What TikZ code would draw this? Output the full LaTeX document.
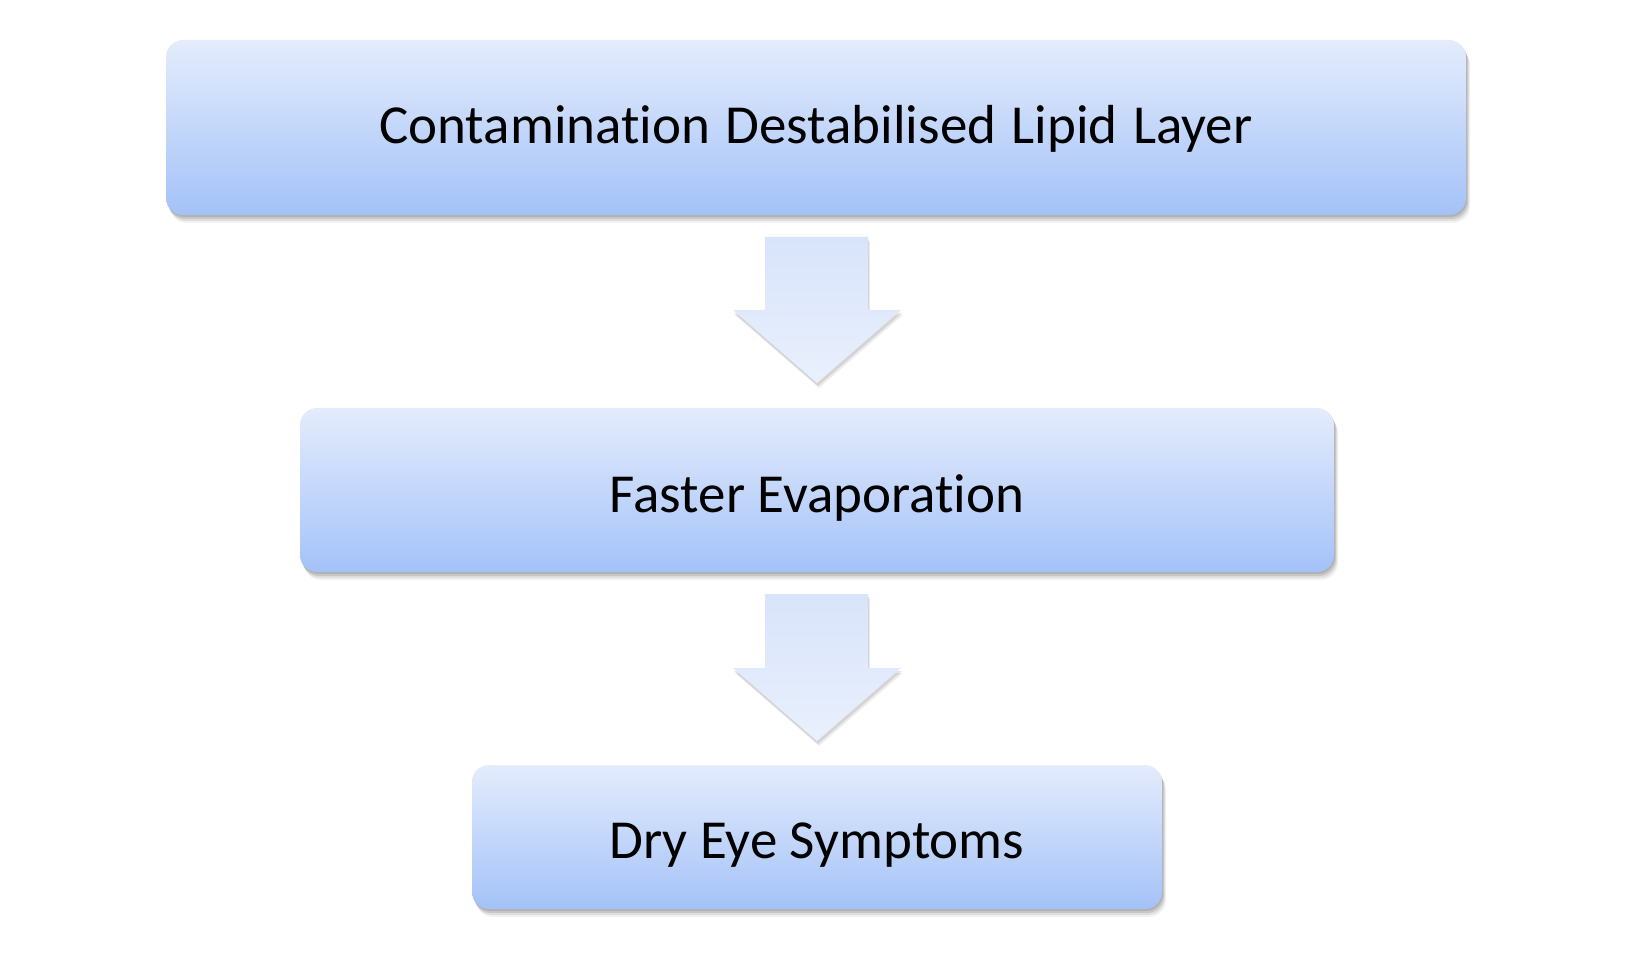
\documentclass[tikz,border=0pt]{standalone}
\usepackage{fontspec}
\setmainfont{Carlito}[Ligatures=NoCommon]
\usetikzlibrary{shadows,calc}
\definecolor{boxtop}{HTML}{E4ECFC}
\definecolor{boxbot}{HTML}{A4C2F8}
\definecolor{arrtop}{HTML}{D8E4FA}
\definecolor{arrbot}{HTML}{E9F0FD}
\tikzset{
  softshadow/.style={
    general shadow={shadow xshift=1pt, shadow yshift=-2pt, opacity=0.10, fill=black},
    general shadow={shadow xshift=2pt, shadow yshift=-4pt, opacity=0.10, fill=black},
    general shadow={shadow xshift=3pt, shadow yshift=-6pt, opacity=0.08, fill=black},
    general shadow={shadow xshift=4pt, shadow yshift=-8pt, opacity=0.05, fill=black}},
  stepbox/.style={rectangle, rounded corners=17pt, top color=boxtop, bottom color=boxbot,
    draw=none, softshadow},
  steptext/.style={font=\fontsize{55}{64}\selectfont, text=black, inner sep=0pt},
  blockarrow/.style={top color=arrtop, bottom color=arrbot, draw=none,
    general shadow={shadow xshift=1pt, shadow yshift=-3pt, opacity=0.10, fill=black},
    general shadow={shadow xshift=2pt, shadow yshift=-5pt, opacity=0.07, fill=black}}
}
\begin{document}
\begin{tikzpicture}[x=1pt,y=-1pt]
\useasboundingbox (0,0) rectangle (1644,957);
\fill[white] (0,0) rectangle (1644,957);
\node[stepbox, minimum width=1300pt, minimum height=175pt] (b1) at (816,127.5) {};
\node[stepbox, minimum width=1034pt, minimum height=164pt] (b2) at (817,490) {};
\node[stepbox, minimum width=690pt, minimum height=144pt] (b3) at (817,837) {};
\node[steptext, yshift=-1pt] (t1) at (b1.center) {Contamination\ \hspace{3pt}Destabilised\ \hspace{3pt}Lipid\ \hspace{3pt}Layer};
\node[steptext, yshift=-8pt] (t2) at (b2.center) {Faster Evaporation};
\node[steptext, yshift=-8pt] (t3) at (b3.center) {Dry Eye Symptoms};
\path[blockarrow] (765,237) -- (868,237) -- (868,310) -- (901,310) -- (817,383) -- (733,310) -- (765,310) -- cycle;
\path[blockarrow] (765,594) -- (868,594) -- (868,668) -- (901,668) -- (817,741) -- (733,668) -- (765,668) -- cycle;
\end{tikzpicture}
\end{document}
